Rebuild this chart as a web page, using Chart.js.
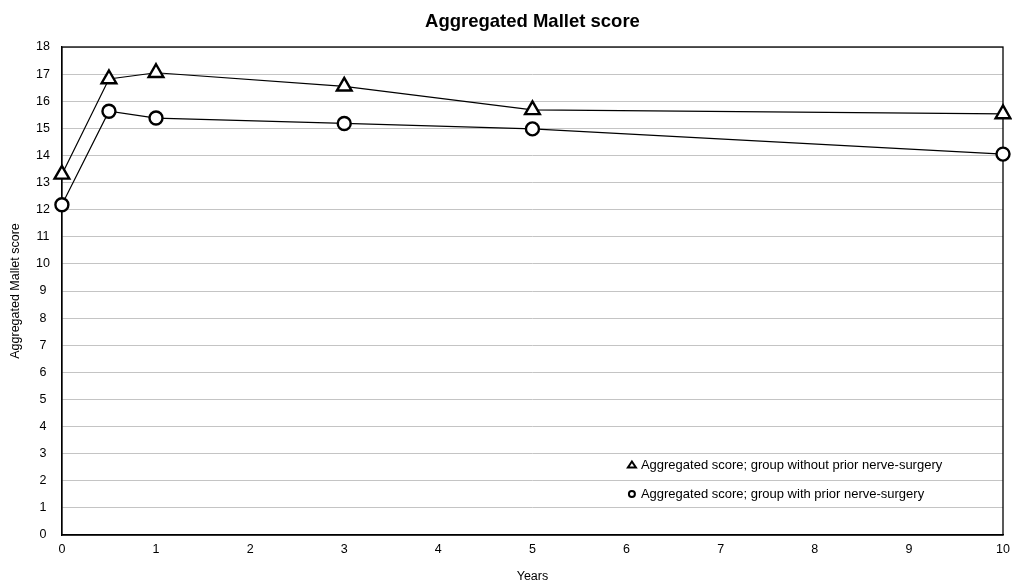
<!DOCTYPE html>
<html>
<head>
<meta charset="utf-8">
<script src="https://cdn.jsdelivr.net/npm/chart.js@4.4.1/dist/chart.umd.min.js"></script>
<style>
  html, body { margin: 0; padding: 0; background: #fff; }
  #wrap { width: 1012px; height: 581px; position: relative; }
</style>
</head>
<body>
<div id="wrap"><canvas id="chart"></canvas></div>
<script>
// follow-up time points (years)
const years = [0, 0.5, 1, 3, 5, 10];
// aggregated Mallet score per group
const withoutPriorSurgery = [13.3, 16.82, 17.05, 16.55, 15.68, 15.53];
const withPriorSurgery = [12.18, 15.63, 15.38, 15.18, 14.98, 14.05];
const seriesLabels = [
  'Aggregated score; group without prior nerve-surgery',
  'Aggregated score; group with prior nerve-surgery'
];
const chartTitle = 'Aggregated Mallet score';

const FONT = 'Liberation Sans, Arial, Helvetica, sans-serif';

// title centred over the plot area (not the whole canvas)
const areaTitle = {
  id: 'areaTitle',
  afterDraw(chart) {
    const a = chart.chartArea;
    const ctx = chart.ctx;
    ctx.save();
    ctx.font = 'bold 18.5px ' + FONT;
    ctx.fillStyle = '#000';
    ctx.textAlign = 'center';
    ctx.textBaseline = 'middle';
    ctx.fillText(chartTitle, (a.left + a.right) / 2, a.top - 25);
    ctx.restore();
  }
};

// legend drawn inside the plot area, bottom right
const innerLegend = {
  id: 'innerLegend',
  afterDraw(chart) {
    const ctx = chart.ctx;
    const area = chart.chartArea;
    const x = area.left + 570;
    const rows = [area.top + 418, area.top + 447];
    ctx.save();
    ctx.font = '13px ' + FONT;
    ctx.textBaseline = 'middle';
    chart.data.datasets.forEach((ds, i) => {
      const y = rows[i];
      ctx.lineWidth = 2;
      ctx.strokeStyle = '#000';
      ctx.fillStyle = '#fff';
      ctx.beginPath();
      if (ds.pointStyle === 'triangle') {
        ctx.moveTo(x, y - 3.5);
        ctx.lineTo(x + 4, y + 2.5);
        ctx.lineTo(x - 4, y + 2.5);
        ctx.closePath();
      } else {
        ctx.arc(x, y, 3, 0, Math.PI * 2);
      }
      ctx.fill();
      ctx.stroke();
      ctx.fillStyle = '#000';
      ctx.fillText(ds.label, x + 9, y);
    });
    ctx.restore();
  }
};

// black frame around the plot area
const plotFrame = {
  id: 'plotFrame',
  beforeDatasetsDraw(chart) {
    const a = chart.chartArea;
    const ctx = chart.ctx;
    ctx.save();
    ctx.strokeStyle = '#000';
    ctx.lineWidth = 1.3;
    ctx.strokeRect(a.left, a.top, a.right - a.left, a.bottom - a.top);
    ctx.restore();
  }
};

const ctx = document.getElementById('chart').getContext('2d');
new Chart(ctx, {
  type: 'line',
  data: {
    datasets: [
      {
        label: seriesLabels[0],
        data: years.map((x, i) => ({ x: x, y: withoutPriorSurgery[i] })),
        borderColor: '#000',
        borderWidth: 1.2,
        pointStyle: 'triangle',
        pointRadius: 8.5,
        pointBorderWidth: 2.4,
        pointBackgroundColor: '#fff',
        pointBorderColor: '#000',
        tension: 0,
        clip: false
      },
      {
        label: seriesLabels[1],
        data: years.map((x, i) => ({ x: x, y: withPriorSurgery[i] })),
        borderColor: '#000',
        borderWidth: 1.2,
        pointStyle: 'circle',
        pointRadius: 6.5,
        pointBorderWidth: 2.4,
        pointBackgroundColor: '#fff',
        pointBorderColor: '#000',
        tension: 0,
        clip: false
      }
    ]
  },
  options: {
    responsive: true,
    maintainAspectRatio: false,
    animation: false,
    layout: { autoPadding: false, padding: { top: 47, right: 9, left: 8, bottom: -3 } },
    plugins: {
      legend: { display: false },
      tooltip: { enabled: false },
      title: { display: false }
    },
    scales: {
      x: {
        type: 'linear',
        min: 0,
        max: 10,
        afterFit(scale) { scale.paddingRight = 0; },
        ticks: { stepSize: 1, color: '#000', font: { family: FONT, size: 12.5 }, padding: 7, maxRotation: 0 },
        grid: { display: false, drawTicks: false },
        border: { display: true, color: '#000', width: 1.3 },
        title: {
          display: true,
          text: 'Years',
          color: '#000',
          font: { family: FONT, size: 12.5 },
          padding: { top: 5, bottom: 0 }
        }
      },
      y: {
        min: 0,
        max: 18,
        ticks: { stepSize: 1, color: '#000', font: { family: FONT, size: 12.5 }, padding: 12, crossAlign: 'center' },
        grid: { color: '#c4c4c4', lineWidth: 1, drawTicks: false },
        border: { display: true, color: '#000', width: 1.3 },
        title: {
          display: true,
          text: 'Aggregated Mallet score',
          color: '#000',
          font: { family: FONT, size: 12.5 },
          padding: { top: 0, bottom: 1 }
        }
      }
    }
  },
  plugins: [plotFrame, innerLegend, areaTitle]
});
</script>
</body>
</html>
